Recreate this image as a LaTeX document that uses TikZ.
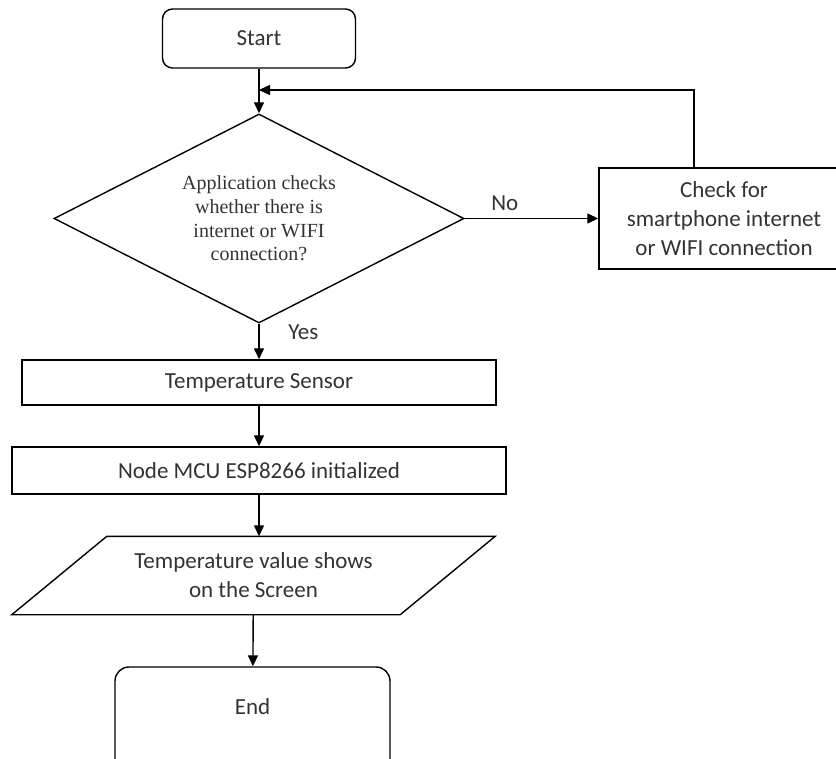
\documentclass[tikz,border=0pt]{standalone}
\usepackage{fontspec}
\setmainfont{Carlito}
\newfontfamily\serifface{Liberation Serif}
\usetikzlibrary{shapes.geometric,arrows.meta,positioning}

\tikzset{
  terminal/.style = {draw, rounded corners=5pt, minimum width=96.5pt, minimum height=29.5pt},
  decision/.style = {draw, diamond, aspect=1.96, inner sep=0pt, minimum width=205pt, minimum height=104.5pt, align=center, font=\serifface\fontsize{10}{11.9}\selectfont},
  process/.style = {draw, align=center},
  io/.style = {minimum width=193.5pt, minimum height=38.5pt, align=center},
  arrow/.style = {-{Triangle[length=5.5pt,width=5pt]}}
}

\begin{document}
\begin{tikzpicture}[x=0.5pt, y=-0.5pt, node distance = 2cm, auto, line width=0.7pt,
  every node/.style={font=\fontsize{11.5}{14.5}\selectfont, text=black!80}]
\useasboundingbox (0,0) rectangle (836,759);

\node (1) [terminal] at (259,38.5) {Start};
\node (2) [decision, below of=1, node distance=90pt] {Application checks\\whether there is\\internet or WIFI\\connection?};
\node (3) [process, right of=2, node distance=232.5pt, minimum width=125pt, minimum height=50.5pt] {Check for\\smartphone internet\\or WIFI connection};
\node (4) [process, below of=2, node distance=82pt, minimum width=237pt, minimum height=22.5pt] {Temperature Sensor};
\node (5) [process, below of=4, node distance=44pt, minimum width=247pt, minimum height=23.5pt] {Node MCU ESP8266 initialized};
\node (6) [io, below of=5, node distance=52.5pt, xshift=-2.75pt] {Temperature value shows\\on the Screen};
\node (7) [terminal, below of=6, node distance=73.25pt, xshift=-0.5pt, rounded corners=7pt, minimum width=137.5pt, inner ysep=0pt, text height=23.5pt, text depth=31.5pt] {End};
\coordinate [below of=1, node distance=25.75pt] (j);

% slanted box for the output step
\draw ([xshift=23.75pt]6.north west) -- ([xshift=23.75pt]6.north east) -- ([xshift=-23.75pt]6.south east) -- ([xshift=-23.75pt]6.south west) -- cycle;

\path [arrow] (1) edge (2);
\path [arrow] (2.east) edge node [pos=0.3] {No} (2.east -| 3.west);
\path [arrow] (2) edge node [pos=0.25, right=11pt] {Yes} (4);
\path [arrow] (4) edge (5);
\path [arrow] (5.south) edge (5.south |- 6.north);
\path [arrow] (6) edge (7);
\draw [arrow] ([xshift=-15pt]3.north) |- (j);
\end{tikzpicture}
\end{document}
